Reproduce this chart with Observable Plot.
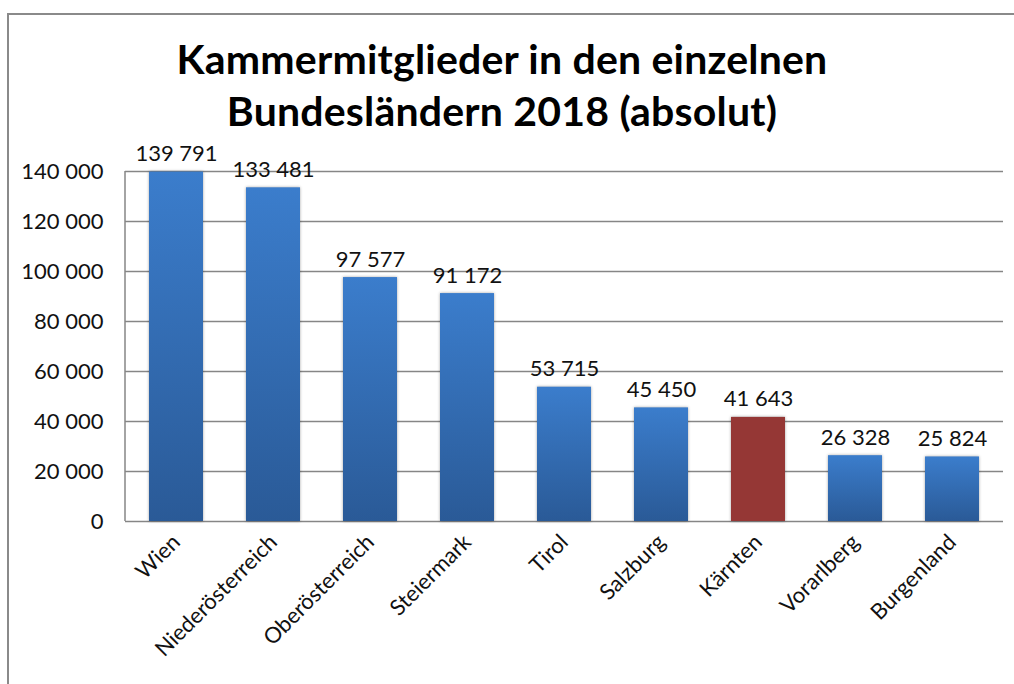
<!DOCTYPE html>
<html>
<head>
<meta charset="utf-8">
<script src="https://cdn.jsdelivr.net/npm/d3@7"></script>
<script src="https://cdn.jsdelivr.net/npm/@observablehq/plot@0.6"></script>
<style>
  body { margin: 0; background: #fff; }
  #wrap { position: relative; width: 1014px; height: 684px; overflow: hidden; font-family: Lato, "Open Sans", sans-serif; background: #fff; }
  #frame { position: absolute; left: 7px; top: 13px; width: 1100px; height: 800px; border-left: 2.5px solid #8a8a8a; border-top: 2.5px solid #8a8a8a; pointer-events: none; }
  #title { height: 140px; box-sizing: border-box; padding-top: 33px; text-align: center; font-weight: bold; font-size: 41px; letter-spacing: 0.2px; line-height: 52px; color: #000; position: relative; }
  #title div { position: relative; left: -5px; white-space: nowrap; }
  #chart svg g[aria-label="bar"] rect { filter: drop-shadow(0 0 1.5px rgba(0,0,0,0.35)); }
</style>
</head>
<body>
<div id="wrap">
  <div id="frame"></div>
  <div id="title"><div>Kammermitglieder in den einzelnen</div><div>Bundesländern 2018 (absolut)</div></div>
  <div id="chart"></div>
</div>
<script>
const regions = ["Wien", "Niederösterreich", "Oberösterreich", "Steiermark", "Tirol", "Salzburg", "Kärnten", "Vorarlberg", "Burgenland"];
const members = [139791, 133481, 97577, 91172, 53715, 45450, 41643, 26328, 25824];
const highlighted = ["Kärnten"];
const yTicks = [0, 20000, 40000, 60000, 80000, 100000, 120000, 140000];

const data = regions.map((r, i) => ({ region: r, value: members[i] }));
const fmt = d => d3.format(",")(d).replace(/,/g, " ");

const defs = () => {
  const d = d3.create("svg:defs");
  const gb = d.append("linearGradient").attr("id", "gBlue").attr("x1", 0).attr("y1", 0).attr("x2", 0).attr("y2", 1);
  gb.append("stop").attr("offset", "0%").attr("stop-color", "#3b7dcc");
  gb.append("stop").attr("offset", "100%").attr("stop-color", "#2a5a97");
  const gr = d.append("linearGradient").attr("id", "gRed").attr("x1", 0).attr("y1", 0).attr("x2", 0).attr("y2", 1);
  gr.append("stop").attr("offset", "0%").attr("stop-color", "#953735");
  gr.append("stop").attr("offset", "100%").attr("stop-color", "#953735");
  return d.node();
};

const leftAxisLine = (index, scales, values, dims) => {
  const y = scales.y;
  return d3.create("svg:line")
    .attr("x1", dims.marginLeft).attr("x2", dims.marginLeft)
    .attr("y1", y(d3.max(yTicks))).attr("y2", y(0))
    .attr("stroke", "#868686").attr("stroke-width", 1.5).node();
};

const H = 544;
const chart = Plot.plot({
  width: 1014,
  height: H,
  marginTop: 31,
  marginBottom: H - 381,
  marginLeft: 125,
  marginRight: 11,
  style: { fontFamily: "Lato, 'Open Sans', sans-serif", fontSize: "22px", color: "#111", background: "transparent" },
  color: { type: "identity" },
  x: { domain: regions, paddingInner: 0.44, paddingOuter: 0.22, label: null, tickSize: 0, tickRotate: -45, tickPadding: 17 },
  y: { domain: [0, 140000], ticks: yTicks, label: null, tickFormat: fmt, tickSize: 0, tickPadding: 22 },
  marks: [
    defs,
    Plot.ruleY(yTicks, { stroke: "#868686", strokeWidth: 1.5 }),
    leftAxisLine,
    Plot.barY(data, { x: "region", y: "value", fill: d => highlighted.includes(d.region) ? "url(#gRed)" : "url(#gBlue)" }),
    Plot.text(data, { x: "region", y: "value", text: d => fmt(d.value), dy: -11, lineAnchor: "bottom", fontSize: 22, fill: "#111" })
  ]
});
document.getElementById("chart").appendChild(chart);
</script>
</body>
</html>
